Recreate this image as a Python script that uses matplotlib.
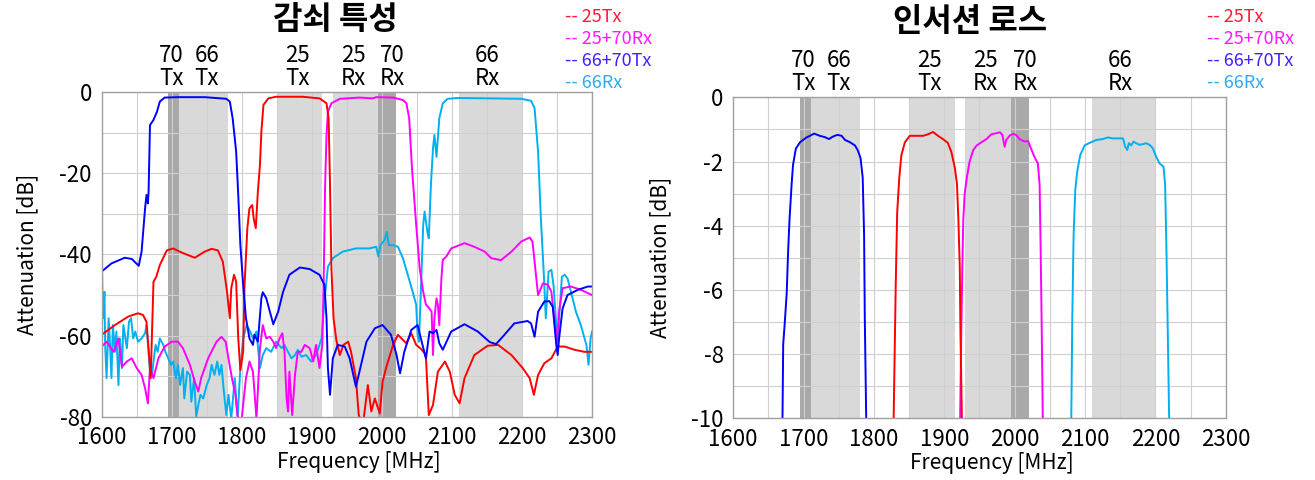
import numpy as np
import matplotlib
matplotlib.use('Agg')
import matplotlib.pyplot as plt
import matplotlib.transforms as mtransforms

plt.rcParams['font.family'] = ['Noto Sans CJK KR', 'DejaVu Sans']

# ---- band shading (MHz) ----
light_bands = [(1710, 1780), (1850, 1915), (1930, 1995), (2110, 2200)]
dark_bands = [(1695, 1710), (1995, 2020)]
band_names = ['70\nTx', '66\nTx', '25\nTx', '25\nRx', '70\nRx', '66\nRx']
band_pos = [1700, 1750, 1879, 1959, 2015, 2150]

legend_names = ['-- 25Tx', '-- 25+70Rx', '-- 66+70Tx', '-- 66Rx']
legend_colors = ['#ff1a3c', '#ff1aff', '#4422ff', '#33aaee']
line_colors = ['#ff0000', '#ff00ff', '#0000ff', '#00b0f0']

# ---- 감쇠 특성 (attenuation), dB ----
att_25tx_f = [1600, 1619, 1638, 1652, 1659, 1664, 1668, 1670, 1674, 1678, 1683, 1693, 1702, 1714,
              1733, 1747, 1757, 1766, 1773, 1779, 1783, 1785, 1789, 1792, 1795, 1798, 1802, 1804,
              1808, 1811, 1815, 1817, 1820, 1823, 1826, 1828, 1831, 1838, 1849, 1887, 1911, 1921,
              1924, 1926, 1928, 1931, 1935, 1940, 1945, 1952, 1956, 1963, 1967, 1973, 1980, 1985,
              1990, 1997, 2001, 2006, 2016, 2023, 2028, 2035, 2042, 2049, 2056, 2061, 2063, 2067,
              2073, 2080, 2090, 2097, 2104, 2111, 2118, 2132, 2151, 2166, 2185, 2201, 2211, 2217,
              2223, 2232, 2242, 2251, 2261, 2275, 2289, 2300]
att_25tx_db = [-59.8, -57.4, -55.3, -54.5, -54.9, -56.6, -65.6, -70.5, -46.7, -45.5, -42.6, -39.0,
               -38.5, -39.5, -40.8, -39.3, -38.6, -39.0, -41.8, -49.2, -55.7, -48.3, -45.0, -46.7,
               -60.7, -68.5, -64.0, -47.5, -33.5, -28.6, -27.8, -31.1, -33.5, -24.5, -17.9, -9.7,
               -3.1, -1.5, -1.1, -1.1, -1.5, -2.7, -6.4, -22.9, -43.4, -55.7, -61.1, -64.8, -62.3,
               -61.5, -64.0, -70.5, -79.6, -82.0, -72.2, -78.7, -75.5, -79.2, -71.4, -68.0, -62.3,
               -59.8, -60.7, -61.9, -59.4, -62.3, -63.3, -64.4, -65.6, -79.6, -77.1, -68.9, -66.4,
               -68.9, -74.6, -76.7, -70.5, -64.8, -62.5, -62.3, -64.8, -68.0, -70.5, -74.6, -69.7,
               -66.8, -65.6, -62.7, -62.7, -63.5, -64.0, -64.0]

att_2570rx_f = [1600, 1607, 1617, 1624, 1629, 1636, 1643, 1650, 1657, 1662, 1666, 1669, 1674, 1681,
                1690, 1700, 1709, 1716, 1726, 1733, 1738, 1742, 1752, 1764, 1771, 1777, 1781, 1786,
                1791, 1794, 1799, 1806, 1811, 1816, 1821, 1826, 1830, 1835, 1840, 1845, 1849, 1854,
                1858, 1861, 1864, 1866, 1868, 1872, 1876, 1880, 1885, 1890, 1897, 1902, 1906, 1911,
                1915, 1917, 1919, 1921, 1923, 1928, 1940, 1968, 1987, 1992, 2016, 2030, 2035, 2039,
                2043, 2049, 2054, 2059, 2063, 2066, 2071, 2073, 2075, 2078, 2080, 2082, 2085, 2087,
                2092, 2099, 2118, 2132, 2147, 2156, 2170, 2185, 2199, 2211, 2215, 2219, 2223, 2225,
                2230, 2237, 2242, 2246, 2250, 2253, 2258, 2270, 2284, 2300]
att_2570rx_db = [-62.7, -61.5, -64.0, -60.7, -67.7, -66.4, -65.6, -68.0, -69.7, -73.0, -76.7, -68.0,
                 -70.5, -65.6, -62.7, -61.5, -61.5, -63.1, -67.2, -71.4, -73.8, -70.5, -65.6, -61.5,
                 -60.3, -61.5, -65.6, -70.5, -74.6, -79.6, -82.0, -70.5, -66.4, -68.9, -80.5, -63.1,
                 -57.4, -60.7, -60.3, -61.5, -63.1, -60.7, -59.4, -64.0, -75.5, -78.7, -68.9, -79.6,
                 -69.7, -64.0, -64.0, -62.3, -63.1, -66.4, -62.3, -68.0, -62.3, -45.9, -22.9, -10.5,
                 -4.8, -2.7, -1.6, -1.3, -1.5, -1.2, -1.3, -1.9, -2.7, -6.4, -18.7, -32.7, -43.4,
                 -49.2, -52.4, -52.9, -54.1, -64.8, -55.7, -50.8, -52.4, -57.4, -45.9, -41.3, -40.5,
                 -38.5, -37.2, -38.1, -39.3, -40.9, -41.4, -39.3, -36.8, -35.8, -36.8, -43.4, -50.0,
                 -49.2, -47.1, -47.5, -49.2, -55.7, -61.5, -54.1, -48.3, -47.9, -48.7, -50.0]

att_6670tx_f = [1600, 1614, 1633, 1643, 1653, 1657, 1662, 1664, 1666, 1667, 1669, 1674, 1679, 1683,
                1690, 1709, 1747, 1778, 1783, 1787, 1792, 1795, 1798, 1802, 1806, 1811, 1816, 1818,
                1823, 1828, 1830, 1835, 1845, 1852, 1859, 1868, 1883, 1897, 1911, 1918, 1921, 1923,
                1926, 1930, 1937, 1947, 1954, 1963, 1968, 1978, 1990, 2001, 2013, 2021, 2026, 2032,
                2042, 2051, 2058, 2063, 2068, 2073, 2078, 2082, 2087, 2099, 2118, 2137, 2154, 2163,
                2175, 2189, 2208, 2213, 2218, 2223, 2232, 2239, 2244, 2249, 2251, 2253, 2258, 2265,
                2280, 2294, 2300]
att_6670tx_db = [-44.2, -42.2, -40.8, -41.1, -42.8, -39.3, -28.6, -25.3, -27.4, -24.5, -8.1, -6.8,
                 -4.8, -2.3, -1.3, -1.2, -1.2, -1.6, -2.3, -6.4, -14.6, -25.3, -37.6, -47.5, -55.7,
                 -60.7, -62.3, -59.8, -61.5, -50.8, -49.3, -50.8, -57.2, -54.1, -49.2, -45.0, -43.2,
                 -43.6, -45.0, -47.5, -55.7, -68.0, -74.6, -65.6, -62.3, -62.7, -65.6, -72.6, -68.9,
                 -61.5, -58.2, -57.4, -59.8, -64.8, -69.3, -64.0, -58.6, -57.4, -62.3, -65.6, -59.0,
                 -59.4, -58.6, -61.9, -63.5, -59.0, -57.2, -59.0, -61.6, -62.1, -59.8, -57.0, -56.4,
                 -57.0, -60.3, -54.1, -51.6, -51.5, -52.9, -62.3, -64.8, -60.7, -53.3, -50.0, -48.7,
                 -47.9, -47.9]

att_66rx_f = [1600, 1601, 1602, 1604, 1605, 1607, 1610, 1612, 1614, 1616, 1619, 1621, 1624, 1626,
              1629, 1631, 1636, 1639, 1642, 1645, 1648, 1652, 1657, 1662, 1664, 1667, 1669, 1672,
              1674, 1677, 1680, 1683, 1688, 1691, 1695, 1699, 1702, 1706, 1709, 1712, 1716, 1718,
              1722, 1726, 1728, 1732, 1735, 1738, 1741, 1745, 1750, 1754, 1757, 1761, 1765, 1768,
              1771, 1774, 1778, 1781, 1785, 1790, 1794, 1798, 1802, 1807, 1812, 1816, 1821, 1826,
              1830, 1835, 1842, 1849, 1857, 1861, 1866, 1871, 1876, 1880, 1885, 1892, 1899, 1906,
              1914, 1918, 1923, 1930, 1944, 1963, 1982, 1992, 1995, 1998, 2004, 2007, 2010, 2016,
              2023, 2030, 2037, 2044, 2049, 2051, 2053, 2056, 2059, 2061, 2065, 2067, 2070, 2073,
              2075, 2078, 2080, 2082, 2087, 2094, 2109, 2156, 2199, 2213, 2218, 2223, 2227, 2231,
              2234, 2238, 2242, 2245, 2249, 2251, 2253, 2257, 2261, 2265, 2270, 2277, 2284, 2292,
              2295, 2298, 2300]
att_66rx_db = [-35.2, -49.2, -55.7, -49.2, -62.3, -70.5, -55.7, -62.3, -70.5, -57.4, -64.0, -59.0,
               -72.2, -60.7, -68.0, -57.4, -63.1, -56.6, -55.7, -60.7, -59.0, -61.5, -60.7, -59.4,
               -57.4, -64.0, -68.9, -69.7, -66.4, -62.3, -64.0, -60.7, -62.3, -64.0, -65.6, -67.2,
               -66.4, -70.5, -67.2, -72.2, -68.0, -75.5, -68.9, -69.7, -76.3, -70.5, -80.0, -77.1,
               -74.6, -75.5, -72.2, -70.5, -67.2, -69.7, -66.4, -69.7, -67.2, -73.0, -79.6, -74.6,
               -80.5, -70.5, -80.5, -68.0, -60.7, -57.4, -59.0, -60.7, -59.0, -68.0, -64.8, -63.1,
               -64.0, -61.5, -63.1, -62.3, -64.0, -65.6, -64.8, -63.5, -65.2, -64.8, -66.4, -64.8,
               -60.7, -51.6, -43.0, -40.9, -39.3, -38.5, -38.5, -38.1, -40.5, -37.7, -36.4, -34.4,
               -37.7, -37.7, -38.1, -40.9, -45.0, -49.2, -52.4, -59.8, -61.5, -47.5, -32.7, -29.4,
               -34.4, -36.0, -22.9, -13.8, -10.5, -15.9, -11.3, -6.4, -2.7, -1.6, -1.4, -1.5, -1.6,
               -2.1, -3.9, -14.6, -31.1, -44.2, -55.7, -44.2, -43.8, -47.5, -57.4, -63.1, -55.7,
               -45.5, -45.0, -45.9, -49.2, -54.1, -57.4, -62.3, -67.2, -60.7, -59.0]

# ---- 인서션 로스 (insertion loss), dB ----
il_25tx_f = [1828, 1831, 1833, 1836, 1839, 1844, 1851, 1860, 1870, 1877, 1884, 1891, 1898, 1905,
             1910, 1915, 1918, 1920, 1922, 1923, 1925]
il_25tx_db = [-10.0, -5.8, -3.6, -2.5, -1.8, -1.4, -1.2, -1.2, -1.2, -1.15, -1.08, -1.2, -1.3,
              -1.42, -1.7, -2.2, -2.7, -3.8, -5.3, -7.4, -10.0]

il_2570rx_f = [1922.5, 1924, 1925.5, 1927, 1929, 1932, 1936, 1941, 1946, 1953, 1960, 1967, 1974,
               1979, 1982.5, 1985.8, 1988, 1993, 1998, 2002, 2007, 2014, 2019, 2024, 2028, 2033,
               2035.5, 2037, 2038.3, 2040]
il_2570rx_db = [-10.0, -7.5, -5.5, -3.8, -3.0, -2.5, -2.0, -1.65, -1.5, -1.4, -1.3, -1.15, -1.12,
                -1.09, -1.17, -1.54, -1.33, -1.19, -1.14, -1.17, -1.3, -1.38, -1.36, -1.64, -1.85,
                -2.06, -2.73, -4.8, -6.9, -10.0]

il_6670tx_f = [1670, 1671, 1673, 1676, 1678, 1680, 1683, 1685, 1689, 1695, 1704, 1709, 1715, 1723,
               1730, 1736, 1742, 1748, 1754, 1759, 1766, 1773, 1777, 1781, 1784, 1786, 1787, 1789]
il_6670tx_db = [-10.0, -7.7, -7.1, -6.1, -4.8, -3.8, -2.7, -2.1, -1.6, -1.4, -1.25, -1.2, -1.13,
                -1.2, -1.24, -1.3, -1.22, -1.17, -1.2, -1.33, -1.4, -1.5, -1.65, -1.9, -2.5, -4.3,
                -6.9, -10.0]

il_66rx_f = [2080.5, 2081.9, 2083.8, 2086.1, 2089, 2093.2, 2099.4, 2106.5, 2116, 2125.4, 2132.5,
             2139.6, 2146.7, 2154, 2157.1, 2160, 2162.3, 2165.6, 2169, 2172.7, 2177.5, 2182.2,
             2186.9, 2191.7, 2196.4, 2201.1, 2205.9, 2211.6, 2213.9, 2215.8, 2217.7, 2219.6]
il_66rx_db = [-10.0, -6.9, -4.3, -2.9, -2.3, -1.8, -1.5, -1.42, -1.33, -1.3, -1.25, -1.28, -1.28,
              -1.28, -1.54, -1.64, -1.43, -1.5, -1.38, -1.43, -1.48, -1.46, -1.43, -1.48, -1.59,
              -1.85, -2.06, -2.16, -2.73, -4.8, -7.4, -10.0]


def setup_axes(ax, ymin, ystep_grid, ystep_label):
    for a, b in light_bands:
        ax.axvspan(a, b, color='#d9d9d9', lw=0, zorder=0.2)
    for a, b in dark_bands:
        ax.axvspan(a, b, color='#a9a9a9', lw=0, zorder=0.2)
    ax.set_xlim(1600, 2300)
    ax.set_ylim(ymin, 0)
    ax.set_xticks(np.arange(1600, 2301, 50))
    ax.set_xticklabels([str(v) if v % 100 == 0 else '' for v in range(1600, 2301, 50)])
    yt = np.arange(ymin, 0.001, ystep_grid)
    ax.set_yticks(yt)
    ax.set_yticklabels([('%d' % round(v)) if round(v) % ystep_label == 0 else '' for v in yt])
    ax.set_axisbelow(True)
    ax.grid(True, color='#cfcfcf', lw=0.8)
    ax.tick_params(length=0, labelsize=16, pad=7)
    for s in ax.spines.values():
        s.set_color('#a0a0a0')
        s.set_linewidth(1.0)
    trans = mtransforms.blended_transform_factory(ax.transData, ax.transAxes)
    for name, x in zip(band_names, band_pos):
        ax.text(x, 1.008, name, transform=trans, ha='center', va='bottom',
                fontsize=16, linespacing=0.98)


fig = plt.figure(figsize=(13.15, 4.8), dpi=100)
ax1 = fig.add_axes([0.0773, 0.1319, 0.3729, 0.6758])
ax2 = fig.add_axes([0.5576, 0.1285, 0.3745, 0.6688])

setup_axes(ax1, -80, 10, 20)
setup_axes(ax2, -10, 1, 2)

att = [(att_25tx_f, att_25tx_db), (att_2570rx_f, att_2570rx_db),
       (att_6670tx_f, att_6670tx_db), (att_66rx_f, att_66rx_db)]
il = [(il_25tx_f, il_25tx_db), (il_2570rx_f, il_2570rx_db),
      (il_6670tx_f, il_6670tx_db), (il_66rx_f, il_66rx_db)]
draw_order = [3, 1, 0, 2]
for i in draw_order:
    ax1.plot(att[i][0], att[i][1], color=line_colors[i], lw=1.4, zorder=2)
for i in draw_order:
    ax2.plot(il[i][0], il[i][1], color=line_colors[i], lw=1.4, zorder=2)

for ax in (ax1, ax2):
    ax.set_xlabel('Frequency [MHz]', fontsize=15, labelpad=2)
    ax.xaxis.set_label_coords(0.525, -0.105)
    ax.set_ylabel('Attenuation [dB]', fontsize=15)

ax1.yaxis.set_label_coords(-0.13, 0.5)
ax2.yaxis.set_label_coords(-0.125, 0.5)

fig.text(335 / 1315, 1 - 20 / 480, '감쇠 특성', ha='center', va='center',
         fontsize=23, fontweight='bold')
fig.text(970 / 1315, 1 - 22 / 480, '인서션 로스', ha='center', va='center',
         fontsize=23, fontweight='bold')

for x0 in (565, 1207):
    for k, (txt, c) in enumerate(zip(legend_names, legend_colors)):
        fig.text(x0 / 1315, 1 - (17 + 22 * k) / 480, txt, color=c, ha='left',
                 va='center', fontsize=13)

fig.savefig('out.png', dpi=100)
